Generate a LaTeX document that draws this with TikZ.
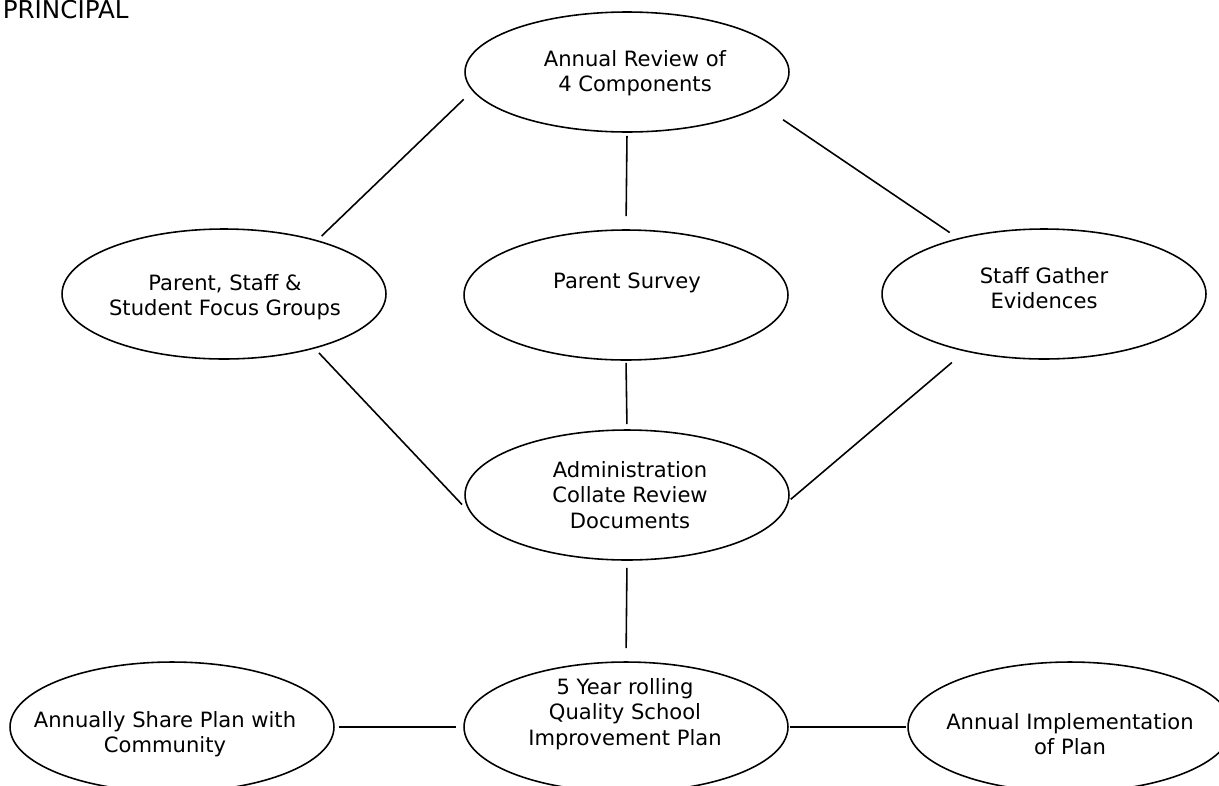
\documentclass[tikz,border=0pt]{standalone}
\usepackage{fontspec}
\setmainfont{DejaVu Sans}
\usetikzlibrary{shapes.geometric}
\begin{document}
\begin{tikzpicture}[x=0.02cm, y=-0.02cm, line width=0.9pt,
        oval/.style={draw, ellipse, minimum width=6.48cm, minimum height=2.6cm, inner sep=0pt},
        lbl/.style={align=center, font=\fontsize{12}{14.5}\selectfont, inner sep=0pt}]
        \useasboundingbox (0,0) rectangle (1219,785);
        \node [anchor=base west, inner sep=0pt, font=\fontsize{14}{16}\selectfont] (principal) at (2,18) {PRINCIPAL};
        \node [oval, minimum height=2.4cm] (review) at (627,72) {};
        \node [lbl] (review-t) at (635,73) {Annual Review of\\4 Components};
        \node [oval] (focus) at (224,294) {};
        \node [lbl] (focus-t) at (225,297) {Parent, Staff \&\\Student Focus Groups};
        \node [oval] (survey) at (626,295) {};
        \node [lbl] (survey-t) at (627,283) {Parent Survey};
        \node [oval] (evid) at (1044,294) {};
        \node [lbl] (evid-t) at (1044,288) {Staff Gather\\Evidences};
        \node [oval] (admin) at (627,495) {};
        \node [lbl] (admin-t) at (630,495) {Administration\\Collate Review\\Documents};
        \node [oval] (plan) at (626,727) {};
        \node [lbl] (plan-t) at (625,714) {5 Year rolling\\Quality School\\Improvement Plan};
        \node [oval] (share) at (172,727) {};
        \node [lbl] (share-t) at (165,734) {Annually Share Plan with\\Community};
        \node [oval] (impl) at (1070,727) {};
        \node [lbl] (impl-t) at (1070,734) {Annual Implementation\\of Plan};
        \draw [shorten <=0.24cm, shorten >=0.12cm] (review.187) -- (focus.30);
        \draw [shorten <=0.06cm, shorten >=0.26cm] (review.south) -- (survey.north);
        \draw [shorten <=0.5cm, shorten >=0.2cm] (review.346) -- (evid.147);
        \draw [shorten <=0.12cm, shorten >=0.46cm] (focus.329) -- (admin.190);
        \draw [shorten <=0.04cm, shorten >=0.1cm] (survey.south) -- (admin.north);
        \draw [shorten <=0.34cm, shorten >=0.04cm] (evid.216) -- (admin.358);
        \draw [shorten <=0.14cm, shorten >=0.26cm] (admin.south) -- (plan.north);
        \draw [shorten <=0.08cm, shorten >=0.14cm] (share.east) -- (plan.west);
        \draw [shorten <=0.02cm, shorten >=0.02cm] (plan.east) -- (impl.west);
\end{tikzpicture}
\end{document}
